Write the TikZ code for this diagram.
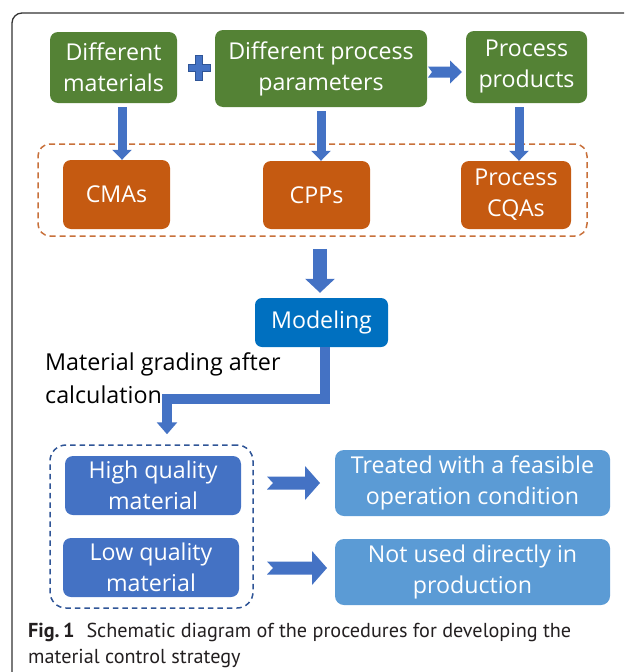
\documentclass[tikz,border=0pt]{standalone}
\usepackage{fontspec}
\setmainfont{Open Sans}
\newfontfamily\capfont{PT Sans}
\usetikzlibrary{arrows.meta,calc}

\definecolor{cgreen}{HTML}{548235}
\definecolor{corange}{HTML}{C55A11}
\definecolor{cdashor}{HTML}{C8703A}
\definecolor{cmodel}{HTML}{0070C0}
\definecolor{cblue}{HTML}{4472C4}
\definecolor{clight}{HTML}{5B9BD5}
\definecolor{cdashbl}{HTML}{2F5597}
\definecolor{cframe}{HTML}{333333}
\definecolor{ccap}{HTML}{231F20}

% block arrow with a notched tail: start, length, shaft half-height,
% head half-height, head length, notch depth
\newcommand\notchedarrow[6]{%
  \fill[cblue] (#1) ++(0,-#3) -- ++(#2-#5,0) -- ++(0,#3-#4) -- ++(#5,#4)
    -- ++(-#5,#4) -- ++(0,#3-#4) -- ++(#5-#2,0) -- ++(#6,-#3) -- cycle;}

\tikzset{
  boxtext/.style={font=\fontsize{23.2}{31}\selectfont, text=white, align=center, inner sep=0pt},
  greenbox/.style={boxtext, fill=cgreen, rounded corners=8pt},
  orangebox/.style={boxtext, fill=corange, rounded corners=8pt},
  modelbox/.style={boxtext, fill=cmodel, rounded corners=7pt},
  gradebox/.style={boxtext, fill=cblue, rounded corners=8pt},
  resultbox/.style={boxtext, fill=clight, rounded corners=9pt},
  orangegroup/.style={draw=cdashor, line width=1.5pt, dash pattern=on 6pt off 4pt, rounded corners=12pt, inner sep=0pt},
  bluegroup/.style={draw=cdashbl, line width=1.5pt, dash pattern=on 5.5pt off 4pt, rounded corners=16pt, inner sep=0pt},
  downarrow/.style={draw=cblue, line width=9pt, -{Triangle[width=19pt,length=10pt]}},
  bigarrow/.style={draw=cblue, line width=14pt, -{Triangle[width=29pt,length=14pt]}},
  elbowarrow/.style={draw=cblue, line width=10.5pt, -{Triangle[width=20pt,length=12pt]}},
}

\begin{document}
\begin{tikzpicture}[x=1pt,y=-1pt]
\useasboundingbox (0,0) rectangle (624,672);
\begin{scope}
  \clip (0,0) rectangle (624,672);
  % outer frame, running off the right and bottom edges
  \draw[cframe, line width=1.3pt, rounded corners=10pt] (12,13) rectangle (700,740);
\end{scope}

% top row
\node[greenbox, minimum width=127pt, minimum height=71pt] (mat) at (113.5,67.5) {Different\\materials};
\node[greenbox, minimum width=212pt, minimum height=77pt] (par) at (321,68.5) {Different process\\parameters};
\node[greenbox, minimum width=121pt, minimum height=72pt] (prod) at (526.5,67) {Process\\products};

% plus sign between the first two boxes
\filldraw[fill=cblue, draw=cdashbl, line width=0.6pt]
  (195.5,55) -- (202.5,55) -- (202.5,64.5) -- (210,64.5) -- (210,71.5) -- (202.5,71.5)
  -- (202.5,80) -- (195.5,80) -- (195.5,71.5) -- (188,71.5) -- (188,64.5) -- (195.5,64.5) -- cycle;

% parameters -> products
\coordinate (pp) at (428,72);
\notchedarrow{pp}{34}{5.5}{11.5}{12}{4}

% critical attributes group
\node[orangegroup, minimum width=549pt, minimum height=92pt] (crit) at (312.5,190) {};
\node[orangebox, minimum width=107pt, minimum height=69pt] (cma) at (116.5,194.5) {CMAs};
\node[orangebox, minimum width=107pt, minimum height=68pt] (cpp) at (316.5,195) {CPPs};
\node[orangebox, minimum width=110pt, minimum height=68pt] (cqa) at (516,195) {Process\\CQAs};

\coordinate (a1) at (122,0);
\coordinate (a2) at (321,0);
\coordinate (a3) at (519,0);
\draw[downarrow, shorten <=4pt] (mat.south -| a1) -- (cma.north -| a1);
\draw[downarrow, shorten <=4pt] (par.south -| a2) -- (cpp.north -| a2);
\draw[downarrow, shorten <=4pt] (prod.south -| a3) -- (cqa.north -| a3);

% modeling
\node[modelbox, minimum width=133pt, minimum height=49pt] (model) at (321.5,322.5) {Modeling};
\coordinate (a4) at (320,0);
\draw[bigarrow, shorten <=12pt, shorten >=5pt] (crit.south -| a4) -- (model.north -| a4);

\node[anchor=base west, align=left, font=\fontsize{23.3}{33}\selectfont, text=black, inner sep=0pt]
  (grading) at (45,403) {Material grading after\\calculation};

% grading group
\node[bluegroup, minimum width=203pt, minimum height=163pt] (grade) at (151.5,526.5) {};
\node[gradebox, minimum width=176pt, minimum height=59pt] (hiq) at (153,485.5) {High quality\\material};
\node[gradebox, minimum width=176pt, minimum height=59pt] (loq) at (151,567.5) {Low quality\\material};

\coordinate (mout) at (325,347);
\coordinate (gin) at (167,0);
\draw[elbowarrow, shorten >=10pt] (mout) -- ++(0,52) -| (grade.north -| gin);

% outcomes
\node[resultbox, minimum width=275pt, minimum height=66pt] (treat) at (472.5,483) {Treated with a feasible\\operation condition};
\node[resultbox, minimum width=275pt, minimum height=66pt] (notused) at (472.5,572) {Not used directly in\\production};

\coordinate (h1) at (267,483);
\coordinate (h2) at (267,568);
\notchedarrow{h1}{53}{6.5}{17}{15}{6}
\notchedarrow{h2}{60}{6.5}{17}{15}{6}

% caption
\node[anchor=base west, align=left, inner sep=0pt, text=ccap,
      font=\capfont\fontsize{20.2}{26}\selectfont] (cap) at (28,663)
  {\textbf{Fig.\,1}\hspace{12pt}Schematic diagram of the procedures for developing the\\material control strategy};
\end{tikzpicture}
\end{document}
